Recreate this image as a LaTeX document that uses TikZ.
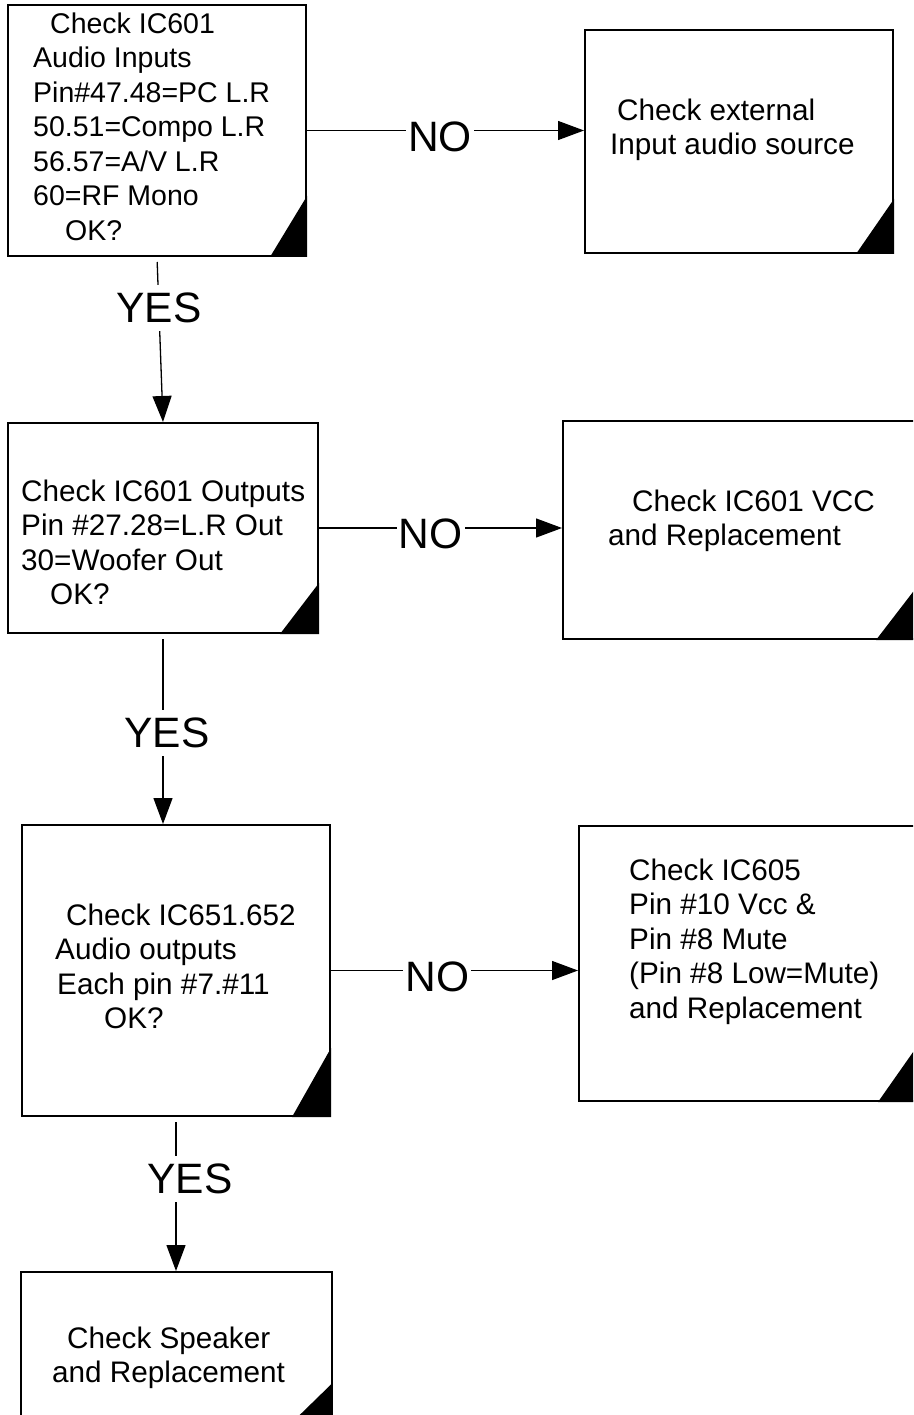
\documentclass[tikz,border=0pt]{standalone}
\usepackage{fontspec}
\setmainfont{Liberation Sans}
\usetikzlibrary{positioning,arrows.meta}

\begin{document}
\begin{tikzpicture}[x=1pt,y=-1pt,box/.style={draw=black,line width=2pt,inner sep=0pt},txt/.style={anchor=north west,inner sep=0pt,align=left,font=\fontsize{29.7}{34.5}\selectfont},lbl/.style={fill=white,inner xsep=2pt,inner ysep=8pt,font=\fontsize{42.5}{50}\selectfont},flow/.style={line width=1.3pt,-{Triangle[length=26pt,width=19pt]}},yes/.style={flow,shorten <=5pt}]

\useasboundingbox (0,0) rectangle (913,1415);
\clip (0,0) rectangle (913,1415);

\node[box,minimum width=298pt,minimum height=251pt] (chkin)  at (157,130.5) {};
\node[box,minimum width=308pt,minimum height=223pt] (chkext) [on grid,below right= 11pt   and 582pt of chkin] {};
\node[box,minimum width=310pt,minimum height=210pt] (ioout)  [on grid,below right=397.5pt and   6pt of chkin] {};
\node[box,minimum width=352pt,minimum height=218pt] (vcc)    [on grid,below right=  2pt   and 576pt of ioout] {};
\node[box,minimum width=308pt,minimum height=291pt] (amp)    [on grid,below right=442.5pt and  13pt of ioout] {};
\node[box,minimum width=338pt,minimum height=275pt] (mute)   [on grid,above right=  7pt   and 572pt of amp] {};
\node[box,minimum width=311pt,minimum height=149pt] (spk)    [on grid,below=376pt of amp] {};

\foreach \b/\triw/\trih in {chkin/37/61,chkext/38/55,ioout/39/51,vcc/40/52,amp/39/69,mute/40/57,spk/40/39}
  \fill (\b.south east) -- ([xshift=-\triw pt]\b.south east) -- ([yshift=\trih pt]\b.south east) -- cycle;

\node[txt,font=\fontsize{28.5}{34.5}\selectfont] (chkin-t) at (33,12.5) {\hspace*{17pt}Check IC601\\Audio Inputs\\Pin\#47.48=PC L.R\\50.51=Compo L.R\\56.57=A/V L.R\\60=RF Mono\\\hspace*{32pt}OK?};
\node[txt] (chkext-t) at (610,98.5)   {\hspace*{7pt}Check external\\Input audio source};
\node[txt] (ioout-t)  at (21,479.5)   {Check IC601 Outputs\\Pin \#27.28=L.R Out\\30=Woofer Out\\\hspace*{29pt}OK?};
\node[txt] (vcc-t)    at (608,489.5)  {\hspace*{24pt}Check IC601 VCC\\and Replacement};
\node[txt] (amp-t)    at (55,903.5)   {\hspace*{11pt}Check IC651.652\\Audio outputs\\\hspace*{2pt}Each pin \#7.\#11\\\hspace*{49pt}OK?};
\node[txt] (mute-t)   at (629,858.5)  {Check IC605\\Pin \#10 Vcc \&\\Pin \#8 Mute\\(Pin \#8 Low=Mute)\\and Replacement};
\node[txt] (spk-t)    at (52,1326.5)  {\hspace*{15pt}Check Speaker\\and Replacement};

\draw[flow] (chkin.east) -- node[lbl,pos=.48,yshift=-6pt]{NO} (chkin.east -| chkext.west);
\draw[yes] (chkin.south) -- node[lbl,pos=.31]{YES} (ioout.north);
\draw[flow] (ioout.east) -- node[lbl,pos=.46,yshift=-6pt]{NO} (ioout.east -| vcc.west);
\draw[yes] (ioout.south) -- node[lbl,pos=.52,xshift=4pt]{YES} (ioout.south |- amp.north);
\draw[flow] (amp.east) -- node[lbl,pos=.43,yshift=-6pt]{NO} (amp.east -| mute.west);
\draw[yes] (amp.south) -- node[lbl,pos=.40,xshift=14pt]{YES} (spk.north);

\end{tikzpicture}
\end{document}
